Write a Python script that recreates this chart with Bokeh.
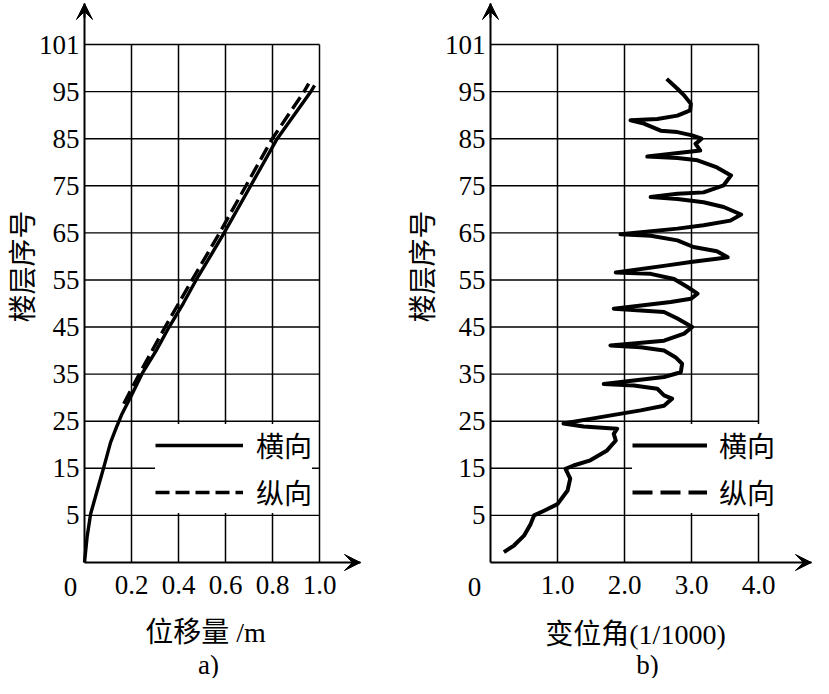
import math
from bokeh.plotting import figure
from bokeh.layouts import row
from bokeh.models import (Range1d, FixedTicker, Label, Legend, LegendItem,
                          Arrow, VeeHead)
from bokeh.embed import file_html
from bokeh.resources import INLINE

SERIF = "Liberation Serif"
CJK = "Noto Sans CJK SC"
MIXED = "Liberation Serif, Noto Sans CJK SC"

# ---- shared storey axis: equally spaced rows labelled as in the figure ----
y_tick_labels = ["5", "15", "25", "35", "45", "55", "65", "75", "85", "95", "101"]
y_tick_pos = [10 * (i + 1) for i in range(len(y_tick_labels))]   # axis positions

# ---- panel a: storey displacement (m) ----
disp_ticks = [0.2, 0.4, 0.6, 0.8, 1.0]
disp_labels = ["0.2", "0.4", "0.6", "0.8", "1.0"]
# 横向 (solid)
disp_h_x = [0.000, 0.011, 0.026, 0.054, 0.082, 0.111, 0.139, 0.160, 0.196, 0.245,
            0.305, 0.360, 0.420, 0.475, 0.535, 0.593, 0.706, 0.820, 0.962, 0.979]
disp_h_y = [0.0, 5.4, 10.3, 15.3, 20.2, 25.5, 29.1, 31.6, 35.1, 40.1,
            45.0, 50.0, 55.0, 60.0, 65.0, 69.9, 79.9, 90.0, 99.9, 101.3]
# 纵向 (dashed)
disp_z_x = [0.167, 0.234, 0.343, 0.458, 0.575, 0.687, 0.799, 0.933, 0.954]
disp_z_y = [33.7, 40.1, 50.0, 60.0, 70.0, 80.0, 90.0, 99.9, 101.7]

# ---- panel b: storey drift angle (1/1000) ----
drift_ticks = [1.0, 2.0, 3.0, 4.0]
drift_labels = ["1.0", "2.0", "3.0", "4.0"]
drift_h_x = [0.20, 0.35, 0.50, 0.60, 0.65, 0.80, 1.00, 1.15, 1.19, 1.12,
             1.24, 1.49, 1.74, 1.87, 1.84, 1.89, 1.39, 1.09, 1.49, 2.24,
             2.59, 2.71, 2.59, 2.49, 2.14, 1.69, 2.59, 2.84, 2.86, 2.76,
             2.59, 2.24, 1.79, 2.59, 2.89, 3.01, 2.79, 2.59, 1.84, 2.69,
             2.99, 3.09, 2.94, 2.74, 2.39, 1.87, 2.64, 2.99, 3.38, 3.54,
             3.38, 3.03, 2.79, 2.39, 1.94, 2.79, 3.18, 3.58, 3.74, 3.48,
             3.18, 2.79, 2.39, 2.79, 3.18, 3.48, 3.59, 3.38, 3.09, 2.79,
             2.34, 3.13, 3.06, 3.15, 3.01, 2.79, 2.54, 2.29, 2.09, 2.49,
             2.79, 2.98, 2.99, 2.89, 2.79, 2.63]
drift_h_y = [2.2, 3.6, 5.7, 8.2, 10.0, 11.0, 12.4, 15.3, 17.8, 19.9,
             20.6, 21.7, 23.8, 25.9, 27.3, 28.4, 28.9, 29.5, 30.5, 32.3,
             33.3, 34.8, 35.5, 36.9, 37.6, 37.9, 39.4, 40.4, 42.2, 43.6,
             45.0, 45.7, 46.1, 47.1, 48.6, 50.0, 51.8, 53.2, 53.9, 55.3,
             56.0, 57.1, 58.5, 60.2, 61.3, 61.6, 63.1, 63.8, 64.5, 64.8,
             66.1, 67.0, 68.4, 69.4, 69.7, 70.9, 71.6, 72.6, 73.9, 75.5,
             76.5, 77.2, 77.6, 78.3, 78.6, 80.1, 82.2, 83.9, 85.4, 85.9,
             86.2, 87.5, 88.9, 90.0, 90.7, 91.4, 91.7, 93.2, 93.9, 94.2,
             94.9, 96.0, 97.4, 99.2, 100.6, 102.7]
# 纵向 is only in the legend of panel b (no curve drawn)
drift_z_x = [math.nan]
drift_z_y = [math.nan]

legend_labels = ["横向", "纵向"]

H = 678
PX_Y = 4.709          # pixels per storey-axis unit
ORIGIN_Y = 562        # pixels from the top of the figure to the x axis
Y_TOP = ORIGIN_Y / PX_Y
Y_BOT = -(H - ORIGIN_Y) / PX_Y
Y_ARROW = (ORIGIN_Y - 3) / PX_Y


def make_panel(width, origin_x, px_x, x_arrow, x_ticks, x_labels, title_text, tag_text,
               title_dx, title_dy, tag_dx, tag_dy, ytitle_dx, zero_dx, leg_x,
               glyph_w, leg_standoff, series):
    x_start = -origin_x / px_x
    x_end = (width - origin_x) / px_x
    p = figure(width=width, height=H, x_range=Range1d(x_start, x_end),
               y_range=Range1d(Y_BOT, Y_TOP),
               output_backend="svg", toolbar_location=None, tools="", title=None,
               min_border=0, min_border_left=0, min_border_right=0,
               min_border_top=0, min_border_bottom=0)
    p.outline_line_color = None
    p.background_fill_color = "white"
    p.border_fill_color = "white"
    p.xgrid.visible = False
    p.ygrid.visible = False

    xa, ya = p.xaxis[0], p.yaxis[0]
    xa.fixed_location = 0
    ya.fixed_location = 0
    xa.bounds = (0, x_arrow)
    ya.bounds = (0, Y_ARROW)
    for ax, ticks, labels, standoff in ((xa, x_ticks, x_labels, 13),
                                        (ya, y_tick_pos, y_tick_labels, 5)):
        ax.ticker = FixedTicker(ticks=ticks)
        ax.major_label_overrides = {t: l for t, l in zip(ticks, labels)}
        ax.major_tick_out = 0
        ax.major_tick_in = 0
        ax.minor_tick_out = 0
        ax.minor_tick_in = 0
        ax.axis_line_width = 2
        ax.axis_line_color = "black"
        ax.major_label_text_font = SERIF
        ax.major_label_text_font_size = "27px"
        ax.major_label_text_color = "black"
        ax.major_label_standoff = standoff

    # grid drawn from the tick arrays, bounded by the last ticks
    top = y_tick_pos[-1]
    right_x = x_ticks[-1]
    p.segment(x0=x_ticks, x1=x_ticks, y0=[0] * len(x_ticks), y1=[top] * len(x_ticks),
              line_color="black", line_width=1.5)
    p.segment(x0=[0] * len(y_tick_pos), x1=[right_x] * len(y_tick_pos),
              y0=y_tick_pos, y1=y_tick_pos, line_color="black", line_width=1.4)

    # axis arrows
    p.add_layout(Arrow(end=VeeHead(size=16, fill_color="black", line_color="black"),
                       x_start=0, y_start=Y_ARROW - 3, x_end=0, y_end=Y_ARROW,
                       line_color="black", line_width=2))
    p.add_layout(Arrow(end=VeeHead(size=16, fill_color="black", line_color="black"),
                       x_start=x_arrow * 0.97, y_start=0, x_end=x_arrow, y_end=0,
                       line_color="black", line_width=2))

    # texts
    p.add_layout(Label(x=0, y=0, x_offset=zero_dx, y_offset=-24, text="0",
                       text_font=SERIF, text_font_size="27px", text_align="center",
                       text_baseline="middle", text_color="black"))
    p.add_layout(Label(x=0, y=0, x_offset=ytitle_dx, y_offset=296, text="楼层序号",
                       angle=math.pi / 2, text_font=CJK, text_font_size="28px",
                       text_align="center", text_baseline="middle", text_color="black"))
    p.add_layout(Label(x=0, y=0, x_offset=title_dx, y_offset=title_dy, text=title_text,
                       text_font=MIXED, text_font_size="28px", text_align="center",
                       text_baseline="middle", text_color="black"))
    p.add_layout(Label(x=0, y=0, x_offset=tag_dx, y_offset=tag_dy, text=tag_text,
                       text_font=SERIF, text_font_size="27px", text_align="center",
                       text_baseline="middle", text_color="black"))

    renderers = []
    for xs, ys, lw, dash in series:
        renderers.append(p.line(xs, ys, line_color="black", line_width=lw,
                                line_dash=dash, line_join="round"))
    legend = Legend(items=[LegendItem(label=legend_labels[0], renderers=[renderers[0]]),
                           LegendItem(label=legend_labels[1], renderers=[renderers[1]])],
                    location=(leg_x, H - 513), margin=0, padding=3, spacing=5,
                    glyph_width=glyph_w, glyph_height=42, label_standoff=leg_standoff,
                    label_text_font=CJK, label_text_font_size="28px",
                    label_text_color="black", border_line_color=None,
                    background_fill_color="white", background_fill_alpha=1.0)
    p.add_layout(legend)
    return p


# ---------------- panel a ----------------
pa = make_panel(400, 84, 235.0, 1.1745, disp_ticks, disp_labels, "位移量 /m", "a)",
                title_dx=121, title_dy=-70, tag_dx=124, tag_dy=-102,
                ytitle_dx=-64, zero_dx=-14, leg_x=155, glyph_w=88, leg_standoff=13,
                series=[(disp_h_x, disp_h_y, 3.4, "solid"),
                        (disp_z_x, disp_z_y, 3.4, "14 6")])

# ---------------- panel b ----------------
pb = make_panel(413, 90, 67.0, 4.79, drift_ticks, drift_labels, "变位角(1/1000)", "b)",
                title_dx=145, title_dy=-72, tag_dx=157, tag_dy=-102,
                ytitle_dx=-70, zero_dx=-16, leg_x=232, glyph_w=75, leg_standoff=12,
                series=[(drift_h_x, drift_h_y, 4, "solid"),
                        (drift_z_x, drift_z_y, 4, "20 8")])

layout = row(pa, pb, spacing=0)
open("out.html", "w").write(file_html(layout, INLINE))
